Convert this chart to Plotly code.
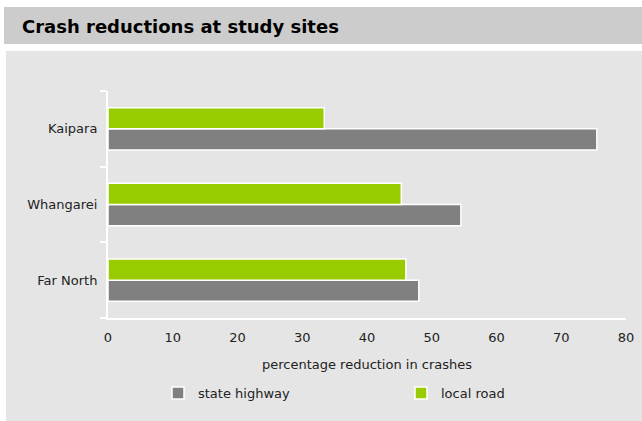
import plotly.graph_objects as go

categories = ["Far North", "Whangarei", "Kaipara"]
state_highway = [48.0, 54.5, 75.5]
local_road = [46.0, 45.3, 33.4]
x_ticks = [0, 10, 20, 30, 40, 50, 60, 70, 80]

W, H = 642, 421
L, R, T, B = 108, 16, 91, 103
pw, ph = W - L - R, H - T - B

def px_x(p):
    return (p - L) / pw

def px_y(p):
    return (H - B - p) / ph

FONT = "DejaVu Sans, Verdana, sans-serif"

fig = go.Figure()
fig.add_trace(go.Bar(
    y=categories, x=state_highway, name="state highway", orientation="h",
    marker=dict(color="#808080", line=dict(color="white", width=1.5)),
    legend="legend",
))
fig.add_trace(go.Bar(
    y=categories, x=local_road, name="local road", orientation="h",
    marker=dict(color="#99cc00", line=dict(color="white", width=1.5)),
    legend="legend2",
))

shapes = [
    dict(type="rect", xref="paper", yref="paper", layer="below",
         x0=px_x(4), x1=px_x(642), y0=px_y(44), y1=px_y(7),
         fillcolor="#cccccc", line=dict(width=0)),
    dict(type="rect", xref="paper", yref="paper", layer="below",
         x0=px_x(6), x1=px_x(642), y0=px_y(421), y1=px_y(51),
         fillcolor="#e5e5e5", line=dict(width=0)),
]

leg_common = dict(orientation="h", xanchor="left", yanchor="middle",
                  bgcolor="rgba(0,0,0,0)", borderwidth=0,
                  font=dict(size=13, family=FONT, color="#222222"))

fig.update_layout(
    width=W, height=H,
    margin=dict(l=L, r=R, t=T, b=B, pad=0, autoexpand=False),
    paper_bgcolor="white", plot_bgcolor="#e5e5e5",
    barmode="group", bargap=0.44, bargroupgap=0.0,
    font=dict(family=FONT, size=13, color="#222222"),
    shapes=shapes,
    showlegend=True,
    legend=dict(x=px_x(158), y=px_y(393), **leg_common),
    legend2=dict(x=px_x(401), y=px_y(393), **leg_common),
    annotations=[dict(text="<b>Crash reductions at study sites</b>", xref="paper", yref="paper",
                      x=px_x(20), y=px_y(26), xanchor="left", yanchor="middle", showarrow=False,
                      font=dict(size=18, family=FONT, color="black"))],
    xaxis=dict(range=[0, 80], tickvals=x_ticks, showgrid=False, zeroline=False,
               showline=True, linecolor="white", linewidth=2, ticks="",
               ticklabelstandoff=6,
               title=dict(text="percentage reduction in crashes", standoff=16,
                          font=dict(size=13, family=FONT)),
               tickfont=dict(size=13, family=FONT)),
    yaxis=dict(showgrid=False, zeroline=False, showline=True, linecolor="white", linewidth=2,
               ticks="outside", tickson="boundaries", ticklen=6, tickcolor="white", tickwidth=2,
               ticklabelstandoff=6, tickfont=dict(size=13, family=FONT)),
)

fig.write_html("out.html", config={"displayModeBar": False})
with open("out.html", encoding="utf-8") as f:
    html = f.read()
html = html.replace("<body>", '<body style="margin:0;padding:0;overflow:hidden">', 1)
with open("out.html", "w", encoding="utf-8") as f:
    f.write(html)
